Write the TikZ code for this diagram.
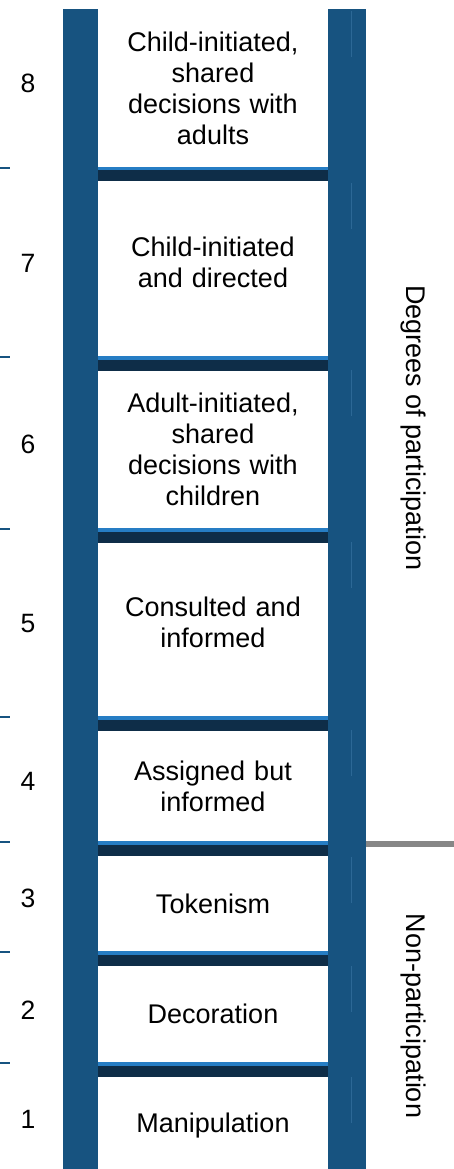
\documentclass[tikz,border=0pt]{standalone}
\usepackage{fontspec}
\setmainfont{Liberation Sans}
\definecolor{rail}{RGB}{23,83,128}
\definecolor{railhi}{RGB}{44,104,150}
\definecolor{runglight}{RGB}{38,125,196}
\definecolor{rungdark}{RGB}{14,45,72}
\definecolor{divider}{RGB}{135,135,135}
\begin{document}
\begin{tikzpicture}[x=1pt,y=-1pt,
  stepnum/.style={font=\fontsize{26.5}{30}\selectfont, anchor=center},
  steplabel/.style={font=\fontsize{27}{31}\selectfont, align=center, anchor=center, text width=220pt},
  sidelabel/.style={font=\fontsize{27}{31}\selectfont, rotate=-90, anchor=center},
  tick/.style={draw=rail, line width=2pt},
  faint/.style={draw=railhi, line width=0.8pt}]
\useasboundingbox (0,0) rectangle (454,1169);

% rails
\fill[rail] (63,9) rectangle (98,1169);
\fill[rail] (328,9) rectangle (366,1169);

% faint highlight segments on the right rail
\foreach \ya in {11,183,370,542,730,857,966,1077}
  \draw[faint] (351,\ya) -- ++(0,46);

% rungs: a light top edge over a dark bar
\foreach \yr in {167,356,528,716,841,951,1062} {
  \fill[runglight] (98,\yr) rectangle (328,\yr+3.5);
  \fill[rungdark] (98,\yr+3.5) rectangle (328,\yr+14.5);
  \draw[tick] (0,\yr+1) -- (10,\yr+1);
}

% level numbers
\node[stepnum] (n8) at (28,83) {8};
\node[stepnum] (n7) at (28,263) {7};
\node[stepnum] (n6) at (28,444) {6};
\node[stepnum] (n5) at (28,624) {5};
\node[stepnum] (n4) at (28,781) {4};
\node[stepnum] (n3) at (28,898) {3};
\node[stepnum] (n2) at (28,1010) {2};
\node[stepnum] (n1) at (28,1119) {1};

% level descriptions
\node[steplabel] (l8) at (213,88) {Child-initiated,\\shared\\decisions with\\adults};
\node[steplabel] (l7) at (213,262) {Child-initiated\\and directed};
\node[steplabel] (l6) at (213,449) {Adult-initiated,\\shared\\decisions with\\children};
\node[steplabel] (l5) at (213,622) {Consulted and\\informed};
\node[steplabel] (l4) at (213,786) {Assigned but\\informed};
\node[steplabel] (l3) at (213,904) {Tokenism};
\node[steplabel] (l2) at (213,1014) {Decoration};
\node[steplabel] (l1) at (213,1126) {Manipulation};

% grouping on the right
\draw[divider, line width=6pt] (366,844) -- (454,844);
\node[sidelabel] (deg) at (413,428) {Degrees of participation};
\node[sidelabel] (non) at (413,1016) {Non-participation};
\end{tikzpicture}
\end{document}
